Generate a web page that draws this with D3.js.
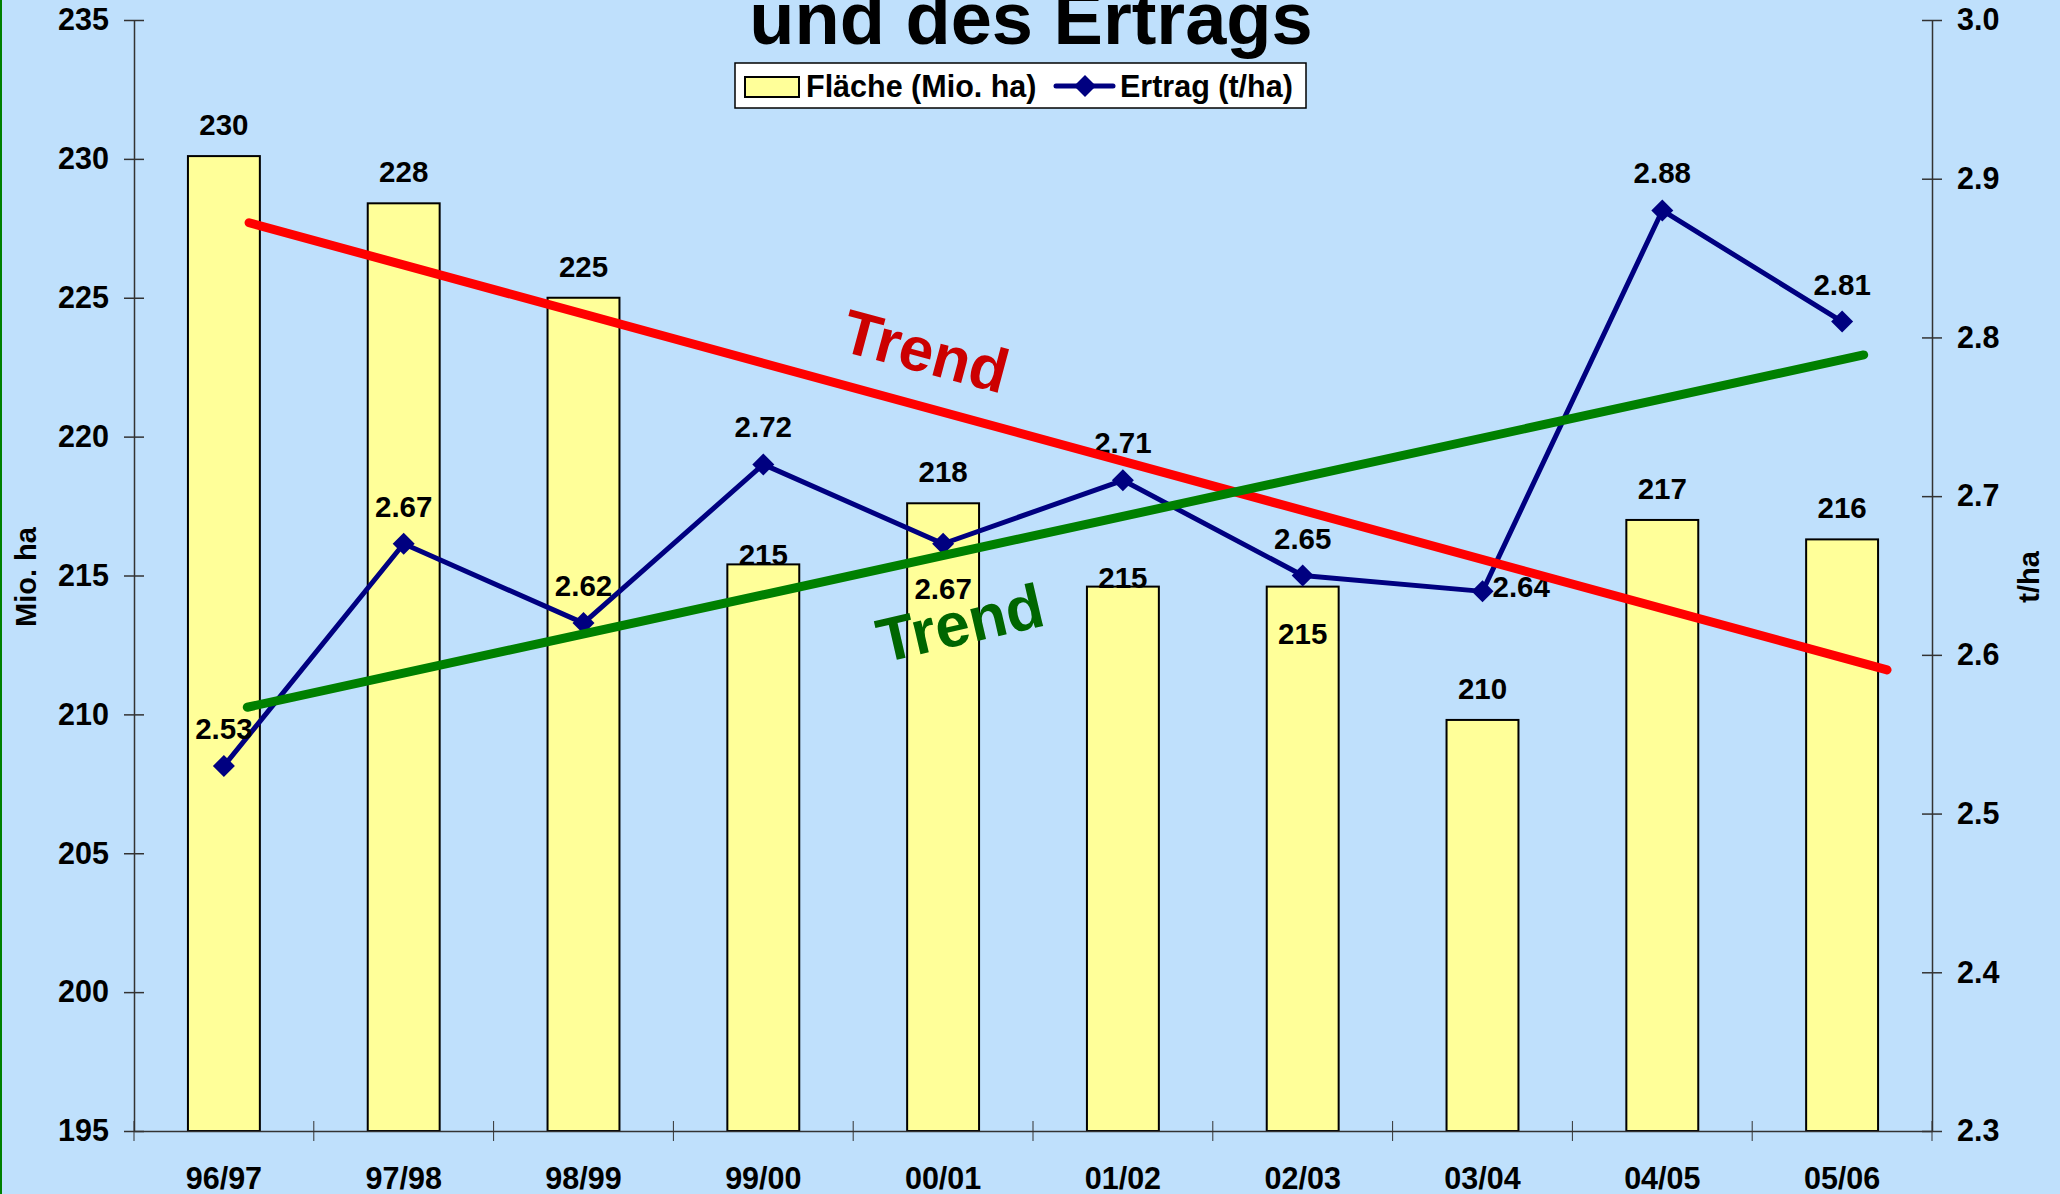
<!DOCTYPE html>
<html>
<head>
<meta charset="utf-8">
<script src="https://cdn.jsdelivr.net/npm/d3@7"></script>
<style>
  body { margin: 0; background: #bfe0fc; }
  text { font-family: "Liberation Sans", Arial, sans-serif; font-weight: bold; }
</style>
</head>
<body>
<div id="chart"></div>
<script>
/* Fläche (bars, left axis) and Ertrag (line, right axis) with two hand drawn trends. */

const categories = ["96/97", "97/98", "98/99", "99/00", "00/01", "01/02", "02/03", "03/04", "04/05", "05/06"];
const flaeche = [230.1, 228.4, 225.0, 215.4, 217.6, 214.6, 214.6, 209.8, 217.0, 216.3];
const ertrag = [2.53, 2.67, 2.62, 2.72, 2.67, 2.71, 2.65, 2.64, 2.88, 2.81];
const leftTicks = [195, 200, 205, 210, 215, 220, 225, 230, 235];
const rightTicks = [2.3, 2.4, 2.5, 2.6, 2.7, 2.8, 2.9, 3.0];
// trend lines: position in category units, value on their axis
const trendFlaeche = [{ pos: 0.14, value: 227.7 }, { pos: 9.25, value: 211.6 }];
const trendErtrag = [{ pos: 0.13, value: 2.567 }, { pos: 9.12, value: 2.789 }];
// where the data labels sit
const barLabelPlace = ["above", "above", "above", "top", "above", "top", "inside", "above", "above", "above"];
const lineLabelPlace = ["above", "above", "above", "above", "below", "above", "above", "right", "above", "above"];

const width = 2060, height = 1194,
    margin = ({ top: 20, right: 128, bottom: 63, left: 134 });

const svg = d3.select("#chart")
    .append("svg")
    .attr("width", width)
    .attr("height", height)
    .attr("viewBox", [0, 0, width, height]);

svg.append("rect")
    .attr("width", width).attr("height", height)
    .attr("fill", "#bfe0fc");

// green slide edge on the left
svg.append("rect")
    .attr("x", 0).attr("y", 0).attr("width", 2).attr("height", height)
    .attr("fill", "#008000");

let x = d3.scaleBand()
    .domain(categories)
    .range([margin.left, width - margin.right])
    .paddingInner(0.6)
    .paddingOuter(0.3);

// same range, in category units (centre of first band = 0)
let xi = d3.scaleLinear()
    .domain([-0.5, categories.length - 0.5])
    .range([margin.left, width - margin.right]);

let y = d3.scaleLinear()
    .domain([195, 235])
    .range([height - margin.bottom, margin.top]);

let y2 = d3.scaleLinear()
    .domain([2.3, 3.0])
    .range([height - margin.bottom, margin.top]);

// title (first line is off the top of the picture, as in the original)
svg.append("text")
    .attr("x", 1031)
    .attr("y", 44)
    .attr("text-anchor", "middle")
    .attr("font-size", 74)
    .text("und des Ertrags");

// bars
svg.append("g")
    .selectAll("rect")
    .data(flaeche)
    .join("rect")
    .attr("x", (d, i) => x(categories[i]))
    .attr("y", d => y(d))
    .attr("width", x.bandwidth())
    .attr("height", d => y(195) - y(d))
    .attr("fill", "#ffff99")
    .attr("stroke", "black")
    .attr("stroke-width", 2);

// left axis with crossing ticks
let gl = svg.append("g")
    .attr("transform", `translate(${margin.left},0)`)
    .call(d3.axisLeft(y).tickValues(leftTicks).tickSize(10).tickPadding(15).tickSizeOuter(0));
gl.selectAll(".tick line").attr("x1", 10);

// right axis
let gr = svg.append("g")
    .attr("transform", `translate(${width - margin.right},0)`)
    .call(d3.axisRight(y2).tickValues(rightTicks).tickFormat(d3.format(".1f")).tickSize(10).tickPadding(15).tickSizeOuter(0));
gr.selectAll(".tick line").attr("x1", -10);

// bottom axis: labels under the bars, ticks between categories
let gb = svg.append("g")
    .attr("transform", `translate(0,${height - margin.bottom})`)
    .call(d3.axisBottom(x).tickSize(0).tickPadding(36).tickSizeOuter(0));

svg.append("g")
    .selectAll("line")
    .data(d3.range(categories.length + 1))
    .join("line")
    .attr("x1", i => xi(i - 0.5))
    .attr("x2", i => xi(i - 0.5))
    .attr("y1", height - margin.bottom - 10)
    .attr("y2", height - margin.bottom + 10)
    .attr("stroke", "#333");

for (let g of [gl, gr, gb]) {
    g.selectAll(".domain").attr("stroke", "#333").attr("stroke-width", 1.5);
    g.selectAll(".tick line").attr("stroke", "#333").attr("stroke-width", 1.5);
    g.selectAll("text").attr("font-size", 30.5).attr("fill", "black")
        .attr("font-family", "Liberation Sans, Arial, sans-serif").attr("font-weight", "bold");
}

// axis titles
svg.append("text")
    .attr("transform", "translate(36,577) rotate(-90)")
    .attr("text-anchor", "middle")
    .attr("font-size", 29)
    .text("Mio. ha");

svg.append("text")
    .attr("transform", "translate(2039,577) rotate(-90)")
    .attr("text-anchor", "middle")
    .attr("font-size", 29)
    .text("t/ha");

// bar labels
let fmt0 = d3.format(".0f");
svg.append("g")
    .selectAll("text")
    .data(flaeche)
    .join("text")
    .attr("x", (d, i) => x(categories[i]) + x.bandwidth() / 2)
    .attr("y", (d, i) => {
        let p = barLabelPlace[i];
        if (p === "top") return y(d) + 1;
        if (p === "inside") return y(d) + 57;
        return y(d) - 21;
    })
    .attr("text-anchor", "middle")
    .attr("font-size", 29.5)
    .text(d => fmt0(d));

// Ertrag line
let line = d3.line()
    .x((d, i) => xi(i))
    .y(d => y2(d));

svg.append("path")
    .datum(ertrag)
    .attr("d", line)
    .attr("fill", "none")
    .attr("stroke", "#000080")
    .attr("stroke-width", 5)
    .attr("stroke-linejoin", "round");

svg.append("g")
    .selectAll("path")
    .data(ertrag)
    .join("path")
    .attr("transform", (d, i) => `translate(${xi(i)},${y2(d)})`)
    .attr("d", "M0,-11L11,0L0,11L-11,0Z")
    .attr("fill", "#000080");

svg.append("g")
    .selectAll("text")
    .data(ertrag)
    .join("text")
    .attr("x", (d, i) => lineLabelPlace[i] === "right" ? xi(i) + 10 : xi(i))
    .attr("y", (d, i) => {
        let p = lineLabelPlace[i];
        if (p === "below") return y2(d) + 55;
        if (p === "right") return y2(d) + 6;
        return y2(d) - 27;
    })
    .attr("text-anchor", (d, i) => lineLabelPlace[i] === "right" ? "start" : "middle")
    .attr("font-size", 29.5)
    .text(d => d3.format(".2f")(d));

// trend lines
svg.append("path")
    .datum(trendFlaeche)
    .attr("d", d3.line().x(d => xi(d.pos)).y(d => y(d.value)))
    .attr("stroke", "#ff0000")
    .attr("stroke-width", 9)
    .attr("stroke-linecap", "round")
    .attr("fill", "none");

svg.append("path")
    .datum(trendErtrag)
    .attr("d", d3.line().x(d => xi(d.pos)).y(d => y2(d.value)))
    .attr("stroke", "#008000")
    .attr("stroke-width", 9)
    .attr("stroke-linecap", "round")
    .attr("fill", "none");

svg.append("text")
    .attr("transform", "translate(920,372) rotate(15)")
    .attr("text-anchor", "middle")
    .attr("font-size", 62)
    .attr("fill", "#cc0000")
    .text("Trend");

svg.append("text")
    .attr("transform", "translate(965,644) rotate(-13)")
    .attr("text-anchor", "middle")
    .attr("font-size", 62)
    .attr("fill", "#006600")
    .text("Trend");

// legend
let legend = svg.append("g");
legend.append("rect")
    .attr("x", 735).attr("y", 63).attr("width", 571).attr("height", 45)
    .attr("fill", "white").attr("stroke", "black").attr("stroke-width", 1.5);
legend.append("rect")
    .attr("x", 745).attr("y", 77).attr("width", 54).attr("height", 20)
    .attr("fill", "#ffff99").attr("stroke", "black").attr("stroke-width", 2);
legend.append("text")
    .attr("x", 806).attr("y", 97)
    .attr("font-size", 30.5)
    .text("Fläche (Mio. ha)");
legend.append("line")
    .attr("x1", 1056).attr("x2", 1113).attr("y1", 86).attr("y2", 86)
    .attr("stroke", "#000080").attr("stroke-width", 5).attr("stroke-linecap", "round");
legend.append("path")
    .attr("transform", "translate(1085,86)")
    .attr("d", "M0,-11L11,0L0,11L-11,0Z")
    .attr("fill", "#000080");
legend.append("text")
    .attr("x", 1120).attr("y", 97)
    .attr("font-size", 30.5)
    .text("Ertrag (t/ha)");
</script>
</body>
</html>
